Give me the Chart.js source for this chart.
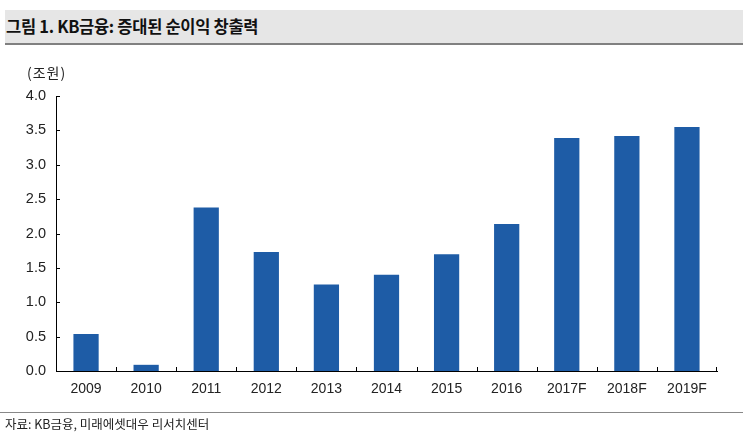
<!DOCTYPE html>
<html>
<head>
<meta charset="utf-8">
<script src="https://cdn.jsdelivr.net/npm/chart.js@4/dist/chart.umd.min.js"></script>
<style>
  body { margin: 0; background: #fff; }
  #wrap { position: relative; width: 750px; height: 445px; overflow: hidden;
          font-family: "Liberation Sans", "Noto Sans CJK KR", sans-serif; color: #222; }
  #title { position: absolute; left: 5px; top: 10px; width: 737px; height: 33px;
           background: #e6e6e6; border-bottom: 2px solid #808080;
           font: bold 16.5px "Noto Sans CJK KR", sans-serif; line-height: 33px;
           padding-left: 1px; color: #111; letter-spacing: -0.3px; }
  #unit { position: absolute; left: 27px; top: 62px; font: 14px "Noto Sans CJK KR", sans-serif; letter-spacing: 1px; }
  #foot { position: absolute; left: 0; top: 412px; width: 743px; border-top: 1px solid #888; }
  #src { position: absolute; left: 5px; top: 414px; font: 12.5px "Noto Sans CJK KR", sans-serif; color: #222; }
  canvas { position: absolute; left: 0; top: 0; }
</style>
</head>
<body>
<div id="wrap">
  <canvas id="netChart" width="750" height="445"></canvas>
  <div id="title">그림 1. KB금융: 증대된 순이익 창출력</div>
  <div id="unit">(조원)</div>
  <div id="foot"></div>
  <div id="src">자료: KB금융, 미래에셋대우 리서치센터</div>
</div>
<script>
const years = ['2009', '2010', '2011', '2012', '2013', '2014', '2015', '2016', '2017F', '2018F', '2019F'];
const netIncome = [0.54, 0.09, 2.38, 1.73, 1.26, 1.40, 1.70, 2.14, 3.39, 3.42, 3.55];
const yTicks = [0, 0.5, 1.0, 1.5, 2.0, 2.5, 3.0, 3.5, 4.0];

// short tick marks pointing into the plot, like the original
const innerTicks = {
  id: 'innerTicks',
  afterDraw(chart) {
    const ctx = chart.ctx;
    const x = chart.scales.x;
    const y = chart.scales.y;
    ctx.save();
    ctx.strokeStyle = '#000';
    ctx.lineWidth = 1;
    ctx.beginPath();
    yTicks.forEach(v => {
      const py = Math.round(y.getPixelForValue(v)) + 0.5;
      ctx.moveTo(x.left, py);
      ctx.lineTo(x.left + 4, py);
    });
    for (let i = 1; i <= years.length; i++) {
      const xx = i < years.length
        ? Math.round((x.getPixelForValue(i - 1) + x.getPixelForValue(i)) / 2)
        : Math.round(x.right) - 1;
      ctx.moveTo(xx + 0.5, y.bottom);
      ctx.lineTo(xx + 0.5, y.bottom - 4);
    }
    ctx.stroke();
    ctx.restore();
  }
};

const ctx = document.getElementById('netChart').getContext('2d');

new Chart(ctx, {
  type: 'bar',
  data: {
    labels: years,
    datasets: [{
      label: '순이익',
      data: netIncome,
      backgroundColor: '#1e5ca6',
      barPercentage: 0.42,
      categoryPercentage: 1
    }]
  },
  options: {
    responsive: false,
    animation: false,
    layout: { padding: { left: 0, right: 33, top: 96, bottom: 0 } },
    plugins: {
      legend: { display: false },
      tooltip: { enabled: false }
    },
    scales: {
      x: {
        offset: true,
        grid: { display: false, drawTicks: false },
        border: { display: true, color: '#000', width: 1 },
        ticks: {
          color: '#222',
          font: { family: 'Liberation Sans', size: 14 },
          padding: 10,
          maxRotation: 0,
          autoSkip: false
        },
        afterFit(scale) { scale.height = 74; }
      },
      y: {
        min: 0,
        max: 4,
        grid: { display: false, drawTicks: false },
        border: { display: true, color: '#000', width: 1 },
        ticks: {
          stepSize: 0.5,
          color: '#222',
          font: { family: 'Liberation Sans', size: 14.5 },
          padding: 10,
          callback: v => v.toFixed(1)
        },
        afterFit(scale) { scale.width = 56; }
      }
    }
  },
  plugins: [innerTicks]
});
</script>
</body>
</html>
